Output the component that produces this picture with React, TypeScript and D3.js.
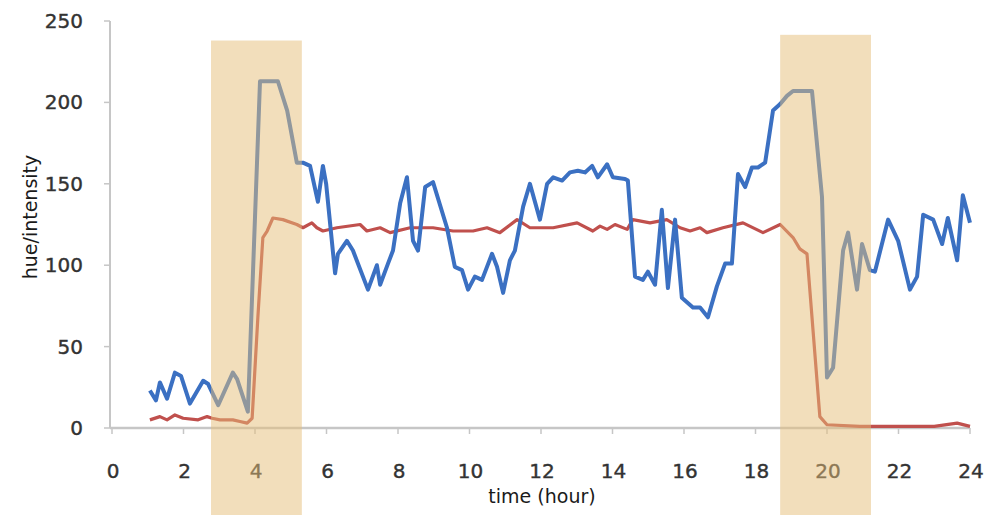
import React from "react";
import * as d3 from "d3";

const blueT = [1.06,1.23,1.34,1.54,1.76,1.93,2.18,2.55,2.69,2.97,3.38,3.5,3.8,4.14,4.64,4.9,5.17,5.34,5.54,5.76,5.9,5.99,6.24,6.32,6.57,6.74,7.16,7.41,7.5,7.72,7.86,8.06,8.25,8.42,8.56,8.76,8.98,9.37,9.59,9.79,9.96,10.15,10.35,10.63,10.77,10.94,11.13,11.27,11.5,11.69,11.97,12.17,12.34,12.59,12.81,13.03,13.23,13.43,13.59,13.85,14.01,14.35,14.43,14.63,14.85,14.99,15.19,15.38,15.55,15.75,15.94,16.25,16.45,16.67,16.92,17.15,17.34,17.51,17.71,17.9,18.07,18.27,18.49,18.69,18.88,19.05,19.58,19.86,20.0,20.17,20.45,20.59,20.84,20.98,21.2,21.34,21.71,21.99,22.32,22.52,22.69,22.97,23.22,23.38,23.64,23.8,24.0];
const blueV = [23,17,28,18,34,32,15,29,27,14,34,30,10,213,213,195,163,163,161,139,161,150,95,107,115,109,85,100,88,101,109,138,154,115,109,148,151,123,99,97,85,93,91,107,99,83,103,109,136,150,128,150,154,152,157,158,157,161,154,162,154,153,152,93,91,96,88,134,86,128,80,74,74,68,87,101,101,156,148,160,160,163,195,199,204,207,207,142,31,37,109,120,85,113,97,96,128,115,85,93,131,128,113,129,103,143,126];

const redT = [1.06,1.34,1.54,1.76,1.99,2.41,2.66,2.8,3.02,3.38,3.58,3.78,3.92,4.08,4.22,4.34,4.5,4.78,5.17,5.34,5.59,5.73,5.9,6.29,6.94,7.13,7.5,7.78,8.34,8.98,9.54,10.1,10.49,10.85,11.33,11.69,12.34,13.01,13.45,13.65,13.85,14.07,14.41,14.57,15.05,15.52,15.89,16.17,16.45,16.64,17.09,17.65,18.21,18.69,19.05,19.24,19.44,19.8,20.0,20.92,22.0,23.0,23.64,24.0];
const redV = [5,7,5,8,6,5,7,6,5,5,4,3,6,68,117,121,129,128,125,123,126,123,121,123,125,121,123,120,123,123,121,121,123,120,128,123,123,126,121,124,122,125,122,128,126,128,123,121,123,120,123,126,120,125,117,110,107,7,2,1,1,1,3,1];

const shadeStart = [2.77, 18.69];
const shadeEnd = [5.31, 21.23];
const shadeTop = [238, 241.5];

const xTicks = [0,2,4,6,8,10,12,14,16,18,20,22,24];
const yTicks = [0,50,100,150,200,250];

export default function App() {
  const W = 988, H = 515;
  const x = d3.scaleLinear().domain([0, 24]).range([112, 970]);
  const y = d3.scaleLinear().domain([0, 250]).range([428, 21]);
  const line = d3.line<[number, number]>().x(d => x(d[0])).y(d => y(d[1]));
  const blue = blueT.map((t, i) => [t, blueV[i]] as [number, number]);
  const red = redT.map((t, i) => [t, redV[i]] as [number, number]);
  const font = "'DejaVu Sans', Verdana, sans-serif";
  return (
    <svg width={W} height={H} style={{ position: "fixed", left: 0, top: 0, background: "#fff" }}>
      <rect x={0} y={0} width={W} height={H} fill="#fff" />
      <line x1={x(0) - 2} x2={x(0) - 2} y1={y(250)} y2={y(0)} stroke="#c6c6c6" strokeWidth={2} />
      <line x1={x(0) - 2} x2={x(24)} y1={y(0)} y2={y(0)} stroke="#c6c6c6" strokeWidth={2.5} />
      {yTicks.map(v => (
        <g key={"y" + v}>
          <line x1={x(0) - 8} x2={x(0) - 2} y1={y(v)} y2={y(v)} stroke="#c6c6c6" strokeWidth={1.5} />
          <text x={83} y={y(v) + 7} textAnchor="end" fontFamily={font} fontSize={20} fill="#333" stroke="#333" strokeWidth={0.4}>{v}</text>
        </g>
      ))}
      {xTicks.map(t => (
        <g key={"x" + t}>
          <line x1={x(t)} x2={x(t)} y1={y(0)} y2={y(0) + 6} stroke="#c6c6c6" strokeWidth={1.5} />
          <text x={x(t) + 1} y={478} textAnchor="middle" fontFamily={font} fontSize={20} fill="#333" stroke="#333" strokeWidth={0.4}>{t}</text>
        </g>
      ))}
      <text x={542} y={503} textAnchor="middle" fontFamily={font} fontSize={19} fill="#1a1a1a">time (hour)</text>
      <text transform="translate(37,217) rotate(-90)" textAnchor="middle" fontFamily={font} fontSize={19} fill="#1a1a1a">hue/intensity</text>
      <path d={line(red) || ""} fill="none" stroke="#c0504d" strokeWidth={3.2} strokeLinejoin="round" />
      <path d={line(blue) || ""} fill="none" stroke="#3b70c2" strokeWidth={4} strokeLinejoin="round" />
      {shadeStart.map((s, i) => (
        <rect key={"s" + i} x={x(s)} y={y(shadeTop[i])} width={x(shadeEnd[i]) - x(s)} height={H - y(shadeTop[i])} fill="#e6bd78" fillOpacity={0.5} />
      ))}
    </svg>
  );
}
